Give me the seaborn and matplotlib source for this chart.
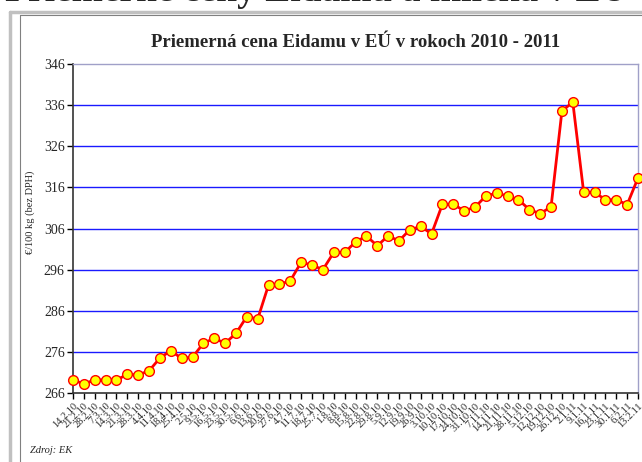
import numpy as np
import pandas as pd
import seaborn as sns
import matplotlib.pyplot as plt
from matplotlib.lines import Line2D

# weekly dates (Feb 2010 - Feb 2011)
dates = ['14.2.10', '21.2.10', '28.2.10', '7.3.10', '14.3.10', '21.3.10', '28.3.10',
         '4.4.10', '11.4.10', '18.4.10', '25.4.10', '2.5.10', '9.5.10', '16.5.10',
         '23.5.10', '30.5.10', '6.6.10', '13.6.10', '20.6.10', '27.6.10', '4.7.10',
         '11.7.10', '18.7.10', '25.7.10', '1.8.10', '8.8.10', '15.8.10', '22.8.10',
         '29.8.10', '5.9.10', '12.9.10', '19.9.10', '26.9.10', '3.10.10', '10.10.10',
         '17.10.10', '24.10.10', '31.10.10', '7.11.10', '14.11.10', '21.11.10',
         '28.11.10', '5.12.10', '12.12.10', '19.12.10', '26.12.10', '2.1.11',
         '9.1.11', '16.1.11', '23.1.11', '30.1.11', '6.2.11', '13.2.11']

# price of Edam, EUR/100 kg (excl. VAT)
price = [269.2, 268.2, 269.2, 269.2, 269.2, 270.5, 270.4, 271.4, 274.5, 276.3,
         274.4, 274.7, 278.1, 279.3, 278.1, 280.5, 284.6, 284.0, 292.3, 292.4,
         293.3, 297.8, 297.1, 296.0, 300.2, 300.2, 302.7, 304.2, 301.8, 304.2,
         303.0, 305.7, 306.5, 304.7, 311.9, 311.9, 310.3, 311.2, 313.9, 314.6,
         313.9, 313.0, 310.6, 309.6, 311.3, 334.6, 336.7, 314.8, 314.8, 313.0,
         313.0, 311.8, 318.3]

y_ticks = list(range(266, 347, 10))

df = pd.DataFrame({'pos': np.arange(len(dates)), 'price': price})

sns.set_style('white')
plt.rcParams['font.family'] = ['Liberation Serif', 'DejaVu Serif']

fig = plt.figure(figsize=(6.42, 4.62), dpi=100)
ax = fig.add_axes([73 / 642, 69 / 462, 565 / 642, 329 / 462])

# slide frame
fig.add_artist(Line2D([10.5 / 642, 10.5 / 642], [0, 450.5 / 462], transform=fig.transFigure,
                      color='#c0c0c0', lw=2.5))
fig.add_artist(Line2D([10.5 / 642, 1], [450.5 / 462, 450.5 / 462], transform=fig.transFigure,
                      color='#c0c0c0', lw=2.5))
fig.add_artist(Line2D([20.5 / 642, 20.5 / 642], [0, 447 / 462], transform=fig.transFigure,
                      color='#808080', lw=0.8))
fig.add_artist(Line2D([20.5 / 642, 1], [447 / 462, 447 / 462], transform=fig.transFigure,
                      color='#808080', lw=0.8))

# clipped slide heading
fig.text(5 / 642, 461 / 462, 'Priemerné ceny Eidamu a mlieka v EÚ v rokoch 2010 - 2011',
         fontsize=27, fontweight='bold', va='baseline', ha='left')

for t in y_ticks[1:-1]:
    ax.axhline(t, color='#1a1aff', lw=1.0, zorder=1)

sns.lineplot(data=df, x='pos', y='price', ax=ax, color='red', lw=2.0,
             marker='o', markersize=7, markerfacecolor='yellow',
             markeredgecolor='red', markeredgewidth=1.0, zorder=3, clip_on=False)

ax.set_xlim(0, len(dates) - 1)
ax.set_ylim(266, 346)
ax.set_yticks(y_ticks)
ax.set_yticklabels([str(t) for t in y_ticks], fontsize=10)
ax.set_xticks(df['pos'])
ax.set_xticklabels(dates, fontsize=7.5, rotation=45, ha='right', rotation_mode='anchor')
ax.tick_params(axis='both', direction='out', length=4, width=1, color='black',
               bottom=True, left=True, pad=2)

for s in ['left', 'bottom']:
    ax.spines[s].set_color('#333333')
    ax.spines[s].set_linewidth(1.2)
for s in ['top', 'right']:
    ax.spines[s].set_color('#a0a0c8')
    ax.spines[s].set_linewidth(1.0)

ax.set_title('Priemerná cena Eidamu v EÚ v rokoch 2010 - 2011', fontsize=13.5,
             fontweight='bold', pad=12)
ax.set_xlabel('')
ax.set_ylabel('€/100 kg (bez DPH)', fontsize=7.5)
ax.yaxis.set_label_coords(-0.068, 0.55)

fig.text(30 / 642, 9 / 462, 'Zdroj: EK', fontsize=7.5, style='italic', va='baseline')

fig.savefig('out.png', dpi=100)
